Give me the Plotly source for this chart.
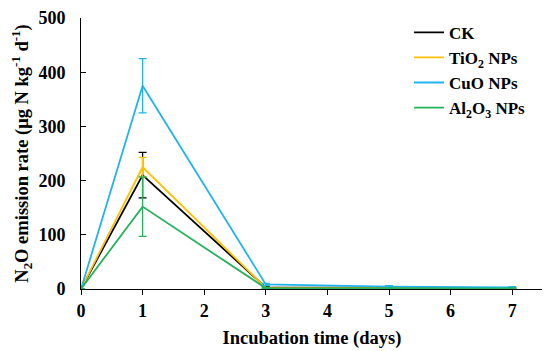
import plotly.graph_objects as go

days = [0, 1, 3, 5, 7]
series_names = ["CK", "TiO<sub>2</sub> NPs", "CuO NPs", "Al<sub>2</sub>O<sub>3</sub> NPs"]
ck = [0, 210, 3, 2, 1.5]
ck_err = [0, 42, 2, 1, 1]
tio2 = [0, 225, 2, 1.5, 1]
tio2_err = [0, 18, 1, 1, 1]
cuo = [0, 375, 8.5, 4.5, 3]
cuo_err = [0, 50, 2, 1.5, 1.5]
al2o3 = [0, 152, 1.5, 1, 1]
al2o3_err = [0, 55, 1, 1, 1]
colors = ["#000000", "#FFC000", "#1FB4EE", "#22B35A"]
x_ticks = [0, 1, 2, 3, 4, 5, 6, 7]
y_ticks = [0, 100, 200, 300, 400, 500]

fig = go.Figure()
for i, (name, ys, errs, c) in enumerate(zip(series_names, [ck, tio2, cuo, al2o3],
                             [ck_err, tio2_err, cuo_err, al2o3_err], colors)):
    fig.add_trace(go.Scatter(
        x=days, y=ys, mode="lines", name=name,
        line=dict(color=c, width=1.8),
        error_y=dict(type="data", array=errs, visible=True, color=c,
                     thickness=1.3, width=4),
    ))

font_family = "Liberation Serif, Times New Roman, serif"
fig.update_layout(
    width=542, height=343,
    margin=dict(l=73, r=7, t=7, b=62),
    plot_bgcolor="white", paper_bgcolor="white",
    font=dict(family=font_family, size=16, color="black"),
    showlegend=True,
    legend=dict(x=0.71, y=1.012, xanchor="left", yanchor="top",
                bgcolor="rgba(0,0,0,0)", itemwidth=30,
                font=dict(family=font_family, size=17, color="black", weight="bold")),
    xaxis=dict(range=[0, 7.5], tickvals=x_ticks, ticks="outside", ticklen=5,
               tickcolor="black", showline=True, linecolor="black", linewidth=1,
               showgrid=False, zeroline=False, automargin=False,
               tickfont=dict(size=18, weight="bold"),
               title=dict(text="<b>Incubation time (days)</b>", font=dict(size=18.5),
                          standoff=11)),
    yaxis=dict(range=[0, 500], tickvals=y_ticks, ticks="inside", ticklen=5,
               tickcolor="black", showline=True, linecolor="black", linewidth=1,
               showgrid=False, zeroline=False, automargin=False,
               ticklabelstandoff=11, ticklabeloverflow="allow",
               tickfont=dict(size=18, weight="bold"),
               title=dict(text="<b>N<sub>2</sub>O emission rate (μg N kg<sup>-1</sup> d<sup>-1</sup>)</b>",
                          font=dict(size=18.5), standoff=12)),
)
fig.write_html("out.html")
